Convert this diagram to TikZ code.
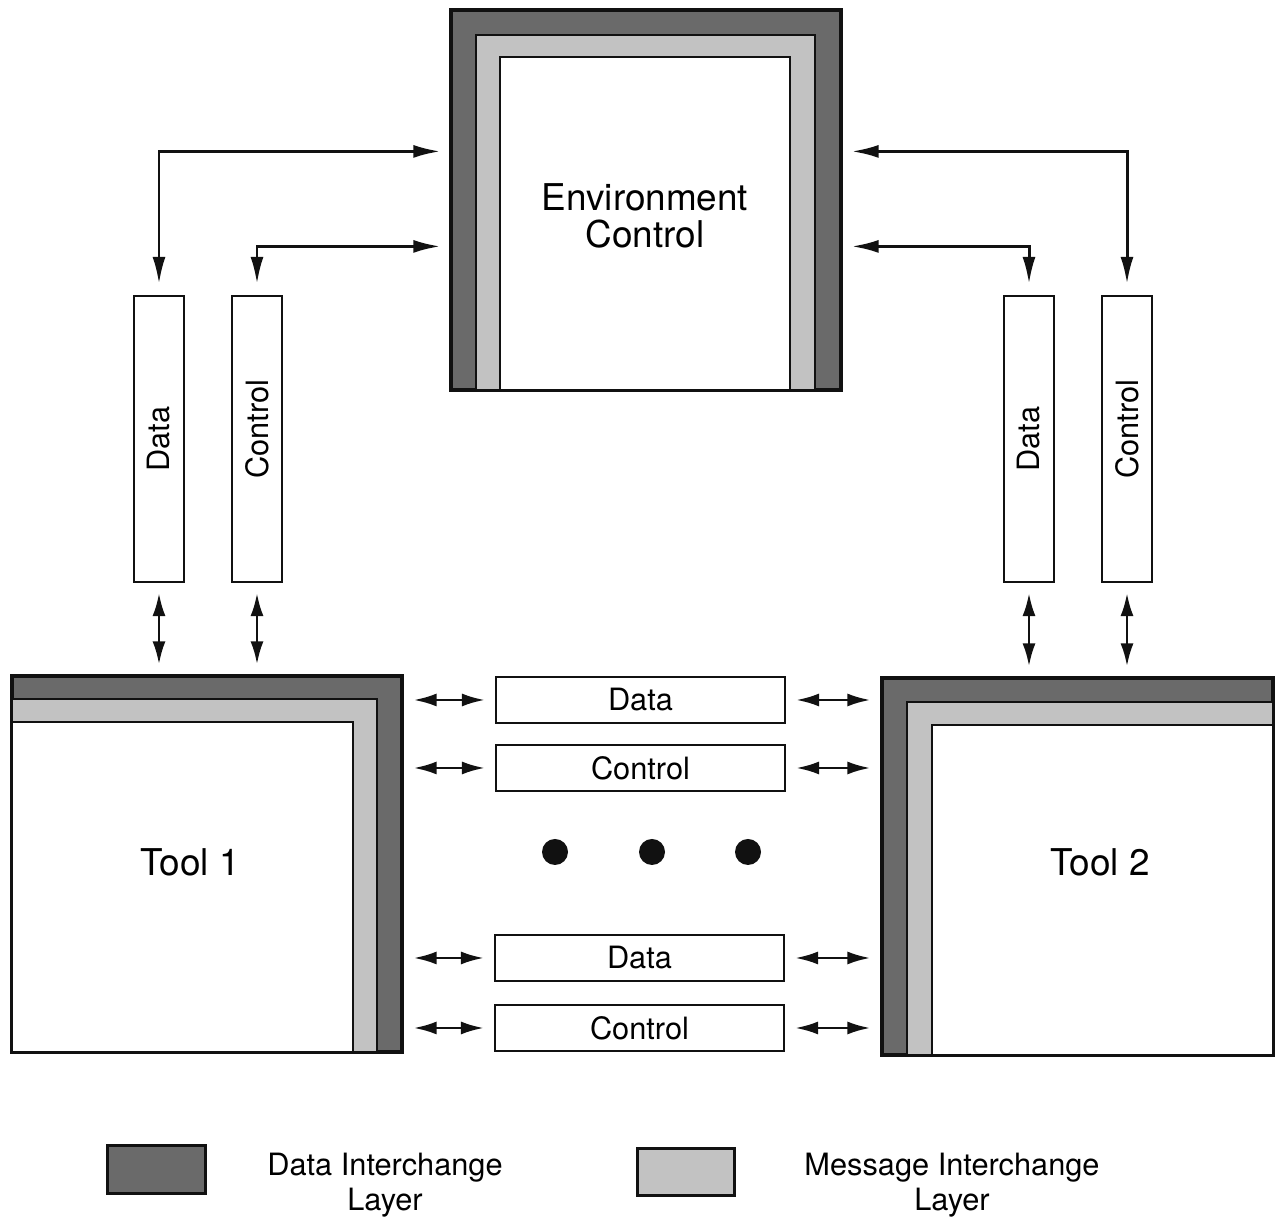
\documentclass[tikz,border=0pt]{standalone}
\usepackage{fontspec}
\setmainfont{TeX Gyre Heros}
\usepackage{tikz}
\usetikzlibrary{arrows.meta,calc,positioning}
\definecolor{ink}{HTML}{111111}
\definecolor{darkshade}{HTML}{6A6A6A}
\definecolor{liteshade}{HTML}{C2C2C2}
\definecolor{paper}{HTML}{FFFFFF}
\newcommand{\bigfont}{\fontsize{21}{21.5}\selectfont}
\newcommand{\boxfont}{\fontsize{17.5}{20}\selectfont}
\tikzset{
  dblarr/.style={{Latex[length=5.4mm,width=2.6mm]}-{Latex[length=5.4mm,width=2.6mm]},line width=1.7pt,color=ink},
  shortarr/.style={{Latex[length=4.6mm,width=2.6mm]}-{Latex[length=4.6mm,width=2.6mm]},line width=1.6pt,color=ink,shorten <=2mm,shorten >=2mm},
  darklayer/.style={draw=ink,fill=darkshade,line width=1.8pt,inner sep=0pt},
  litelayer/.style={draw=ink,fill=liteshade,line width=1.2pt,inner sep=0pt},
  corebox/.style={draw=ink,fill=paper,line width=1.2pt,inner sep=0pt,align=center},
  chanbox/.style={draw=ink,fill=paper,line width=1.2pt,inner sep=0pt,font=\boxfont},
  upbox/.style={chanbox,minimum width=1.0cm,minimum height=5.72cm},
  flatbox/.style={chanbox,minimum width=5.78cm,minimum height=0.92cm},
  keybox/.style={draw=ink,line width=1.5pt,inner sep=0pt,minimum width=1.95cm,minimum height=0.95cm},
  dotnode/.style={circle,fill=ink,inner sep=0pt,minimum size=0.52cm}
}
\begin{document}
\begin{tikzpicture}[x=1cm,y=1cm,>=Latex]
  \useasboundingbox (0,0) rectangle (25.54,24.52);

  % environment control with its two layers
  \node[darklayer,minimum width=7.8cm,minimum height=7.6cm] (env) at (12.92,20.52) {};
  \node[litelayer,minimum width=6.78cm,minimum height=7.1cm] (envm) at (12.91,20.27) {};
  \node[corebox,minimum width=5.8cm,minimum height=6.66cm] (envc) at (12.9,20.05) {};
  \node[font=\bigfont,align=center] (envtxt) at (12.9,20.2) {Environment\\Control};

  % tools
  \node[darklayer,minimum width=7.8cm,minimum height=7.52cm] (t1) at (4.14,7.24) {};
  \node[litelayer,minimum width=7.3cm,minimum height=7.06cm] (t1m) at (3.89,7.01) {};
  \node[corebox,minimum width=6.82cm,minimum height=6.6cm] (t1c) at (3.65,6.78) {};
  \node[font=\bigfont] (t1txt) at (3.8,7.28) {Tool 1};

  \node[darklayer,minimum width=7.82cm,minimum height=7.54cm] (t2) at (21.55,7.19) {};
  \node[litelayer,minimum width=7.32cm,minimum height=7.06cm] (t2m) at (21.8,6.95) {};
  \node[corebox,minimum width=6.82cm,minimum height=6.6cm] (t2c) at (22.05,6.72) {};
  \node[font=\bigfont] (t2txt) at (22.0,7.28) {Tool 2};

  % upright channels
  \node[upbox] (dL) at (3.18,15.74) {\rotatebox{90}{Data}};
  \node[upbox] (cL) at (5.14,15.74) {\rotatebox{90}{\hspace{0.4cm}Control}};
  \node[upbox] (dR) at (20.58,15.74) {\rotatebox{90}{Data}};
  \node[upbox] (cR) at (22.54,15.74) {\rotatebox{90}{\hspace{0.4cm}Control}};

  % channels between the tools
  \node[flatbox] (m1) at (12.81,10.52) {Data};
  \node[flatbox] (m2) at (12.81,9.16) {Control};
  \node[flatbox] (m3) at (12.79,5.36) {Data};
  \node[flatbox] (m4) at (12.79,3.96) {Control};

  \node[dotnode] (p1) at (11.1,7.48) {};
  \node[dotnode] (p2) at (13.04,7.48) {};
  \node[dotnode] (p3) at (14.96,7.48) {};

  \draw[dblarr] ([yshift=2.2mm]dL.north) |- ([shift={(-0.18,-2.86)}]env.north west);
  \draw[dblarr] ([yshift=2.2mm]cL.north) |- ([shift={(-0.18,-4.76)}]env.north west);
  \draw[dblarr] ([shift={(0.18,-2.86)}]env.north east) -| ([yshift=2.2mm]cR.north);
  \draw[dblarr] ([shift={(0.18,-4.76)}]env.north east) -| ([yshift=2.2mm]dR.north);

  \draw[shortarr] (dL.south) -- (dL.south |- t1.north);
  \draw[shortarr] (cL.south) -- (cL.south |- t1.north);
  \draw[shortarr] (dR.south) -- (dR.south |- t2.north);
  \draw[shortarr] (cR.south) -- (cR.south |- t2.north);

  \draw[shortarr] (m1.west -| t1.east) -- (m1.west); \draw[shortarr] (m1.east) -- (m1.east -| t2.west);
  \draw[shortarr] (m2.west -| t1.east) -- (m2.west); \draw[shortarr] (m2.east) -- (m2.east -| t2.west);
  \draw[shortarr] (m3.west -| t1.east) -- (m3.west); \draw[shortarr] (m3.east) -- (m3.east -| t2.west);
  \draw[shortarr] (m4.west -| t1.east) -- (m4.west); \draw[shortarr] (m4.east) -- (m4.east -| t2.west);

  % legend
  \node[keybox,fill=darkshade] (kd) at (3.13,1.13) {};
  \node[font=\boxfont,align=center] (kdtxt) at (7.7,0.82) {Data Interchange\\Layer};
  \node[keybox,fill=liteshade] (km) at (13.72,1.08) {};
  \node[font=\boxfont,align=center] (kmtxt) at (19.04,0.82) {Message Interchange\\Layer};
\end{tikzpicture}
\end{document}
